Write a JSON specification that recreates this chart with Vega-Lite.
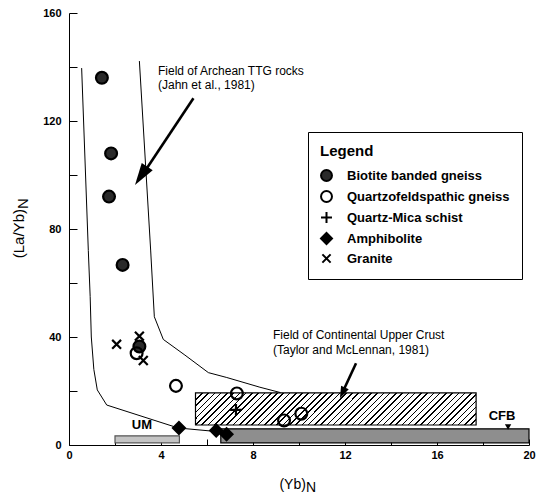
{
  "$schema": "https://vega.github.io/schema/vega-lite/v6.json",
  "width": 460,
  "height": 432,
  "autosize": {"type": "none"},
  "padding": {"left": 69, "top": 13, "right": 17, "bottom": 51},
  "background": "white",
  "config": {
    "view": {"stroke": null},
    "axis": {"domainColor": "#000", "domainWidth": 1, "tickColor": "#000", "tickWidth": 1, "labelColor": "#000", "labelFont": "Liberation Sans", "labelFontSize": 11, "labelFontWeight": "bold", "grid": false, "labelOverlap": false, "labelFlush": false},
    "legend": {"orient": "none", "legendX": 239, "legendY": 119, "titleFont": "Liberation Sans", "titleFontSize": 15, "titleFontWeight": "bold", "titleColor": "#000", "titlePadding": 10, "labelFont": "Liberation Sans", "labelFontSize": 13, "labelFontWeight": "bold", "labelColor": "#000", "labelLimit": 400, "strokeColor": "#000", "fillColor": "#fff", "padding": 12, "rowPadding": 2, "symbolSize": 120, "symbolStrokeWidth": 2, "symbolStrokeColor": "#000", "labelOffset": 14},
    "text": {"font": "Liberation Sans", "color": "#000"}
  },
  "layer": [
    {
      "data": {"values": [{"name": "Continental Upper Crust", "x": 5.5, "x2": 17.7, "y": 7.4, "y2": 19.3}]},
      "mark": {"type": "rect", "stroke": "#000", "strokeWidth": 1.2, "fill": {"gradient": "linear", "x1": 0, "y1": 0, "x2": 1.1, "y2": 0.1258, "stops": [
        {"offset":0,"color":"#000"},{"offset":0.005,"color":"#000"},{"offset":0.005,"color":"#fff"},{"offset":0.02,"color":"#fff"},
        {"offset":0.02,"color":"#000"},{"offset":0.025,"color":"#000"},{"offset":0.025,"color":"#fff"},{"offset":0.04,"color":"#fff"},
        {"offset":0.04,"color":"#000"},{"offset":0.045,"color":"#000"},{"offset":0.045,"color":"#fff"},{"offset":0.06,"color":"#fff"},
        {"offset":0.06,"color":"#000"},{"offset":0.065,"color":"#000"},{"offset":0.065,"color":"#fff"},{"offset":0.08,"color":"#fff"},
        {"offset":0.08,"color":"#000"},{"offset":0.085,"color":"#000"},{"offset":0.085,"color":"#fff"},{"offset":0.10,"color":"#fff"},
        {"offset":0.10,"color":"#000"},{"offset":0.105,"color":"#000"},{"offset":0.105,"color":"#fff"},{"offset":0.12,"color":"#fff"},
        {"offset":0.12,"color":"#000"},{"offset":0.125,"color":"#000"},{"offset":0.125,"color":"#fff"},{"offset":0.14,"color":"#fff"},
        {"offset":0.14,"color":"#000"},{"offset":0.145,"color":"#000"},{"offset":0.145,"color":"#fff"},{"offset":0.16,"color":"#fff"},
        {"offset":0.16,"color":"#000"},{"offset":0.165,"color":"#000"},{"offset":0.165,"color":"#fff"},{"offset":0.18,"color":"#fff"},
        {"offset":0.18,"color":"#000"},{"offset":0.185,"color":"#000"},{"offset":0.185,"color":"#fff"},{"offset":0.20,"color":"#fff"},
        {"offset":0.20,"color":"#000"},{"offset":0.205,"color":"#000"},{"offset":0.205,"color":"#fff"},{"offset":0.22,"color":"#fff"},
        {"offset":0.22,"color":"#000"},{"offset":0.225,"color":"#000"},{"offset":0.225,"color":"#fff"},{"offset":0.24,"color":"#fff"},
        {"offset":0.24,"color":"#000"},{"offset":0.245,"color":"#000"},{"offset":0.245,"color":"#fff"},{"offset":0.26,"color":"#fff"},
        {"offset":0.26,"color":"#000"},{"offset":0.265,"color":"#000"},{"offset":0.265,"color":"#fff"},{"offset":0.28,"color":"#fff"},
        {"offset":0.28,"color":"#000"},{"offset":0.285,"color":"#000"},{"offset":0.285,"color":"#fff"},{"offset":0.30,"color":"#fff"},
        {"offset":0.30,"color":"#000"},{"offset":0.305,"color":"#000"},{"offset":0.305,"color":"#fff"},{"offset":0.32,"color":"#fff"},
        {"offset":0.32,"color":"#000"},{"offset":0.325,"color":"#000"},{"offset":0.325,"color":"#fff"},{"offset":0.34,"color":"#fff"},
        {"offset":0.34,"color":"#000"},{"offset":0.345,"color":"#000"},{"offset":0.345,"color":"#fff"},{"offset":0.36,"color":"#fff"},
        {"offset":0.36,"color":"#000"},{"offset":0.365,"color":"#000"},{"offset":0.365,"color":"#fff"},{"offset":0.38,"color":"#fff"},
        {"offset":0.38,"color":"#000"},{"offset":0.385,"color":"#000"},{"offset":0.385,"color":"#fff"},{"offset":0.40,"color":"#fff"},
        {"offset":0.40,"color":"#000"},{"offset":0.405,"color":"#000"},{"offset":0.405,"color":"#fff"},{"offset":0.42,"color":"#fff"},
        {"offset":0.42,"color":"#000"},{"offset":0.425,"color":"#000"},{"offset":0.425,"color":"#fff"},{"offset":0.44,"color":"#fff"},
        {"offset":0.44,"color":"#000"},{"offset":0.445,"color":"#000"},{"offset":0.445,"color":"#fff"},{"offset":0.46,"color":"#fff"},
        {"offset":0.46,"color":"#000"},{"offset":0.465,"color":"#000"},{"offset":0.465,"color":"#fff"},{"offset":0.48,"color":"#fff"},
        {"offset":0.48,"color":"#000"},{"offset":0.485,"color":"#000"},{"offset":0.485,"color":"#fff"},{"offset":0.50,"color":"#fff"},
        {"offset":0.50,"color":"#000"},{"offset":0.505,"color":"#000"},{"offset":0.505,"color":"#fff"},{"offset":0.52,"color":"#fff"},
        {"offset":0.52,"color":"#000"},{"offset":0.525,"color":"#000"},{"offset":0.525,"color":"#fff"},{"offset":0.54,"color":"#fff"},
        {"offset":0.54,"color":"#000"},{"offset":0.545,"color":"#000"},{"offset":0.545,"color":"#fff"},{"offset":0.56,"color":"#fff"},
        {"offset":0.56,"color":"#000"},{"offset":0.565,"color":"#000"},{"offset":0.565,"color":"#fff"},{"offset":0.58,"color":"#fff"},
        {"offset":0.58,"color":"#000"},{"offset":0.585,"color":"#000"},{"offset":0.585,"color":"#fff"},{"offset":0.60,"color":"#fff"},
        {"offset":0.60,"color":"#000"},{"offset":0.605,"color":"#000"},{"offset":0.605,"color":"#fff"},{"offset":0.62,"color":"#fff"},
        {"offset":0.62,"color":"#000"},{"offset":0.625,"color":"#000"},{"offset":0.625,"color":"#fff"},{"offset":0.64,"color":"#fff"},
        {"offset":0.64,"color":"#000"},{"offset":0.645,"color":"#000"},{"offset":0.645,"color":"#fff"},{"offset":0.66,"color":"#fff"},
        {"offset":0.66,"color":"#000"},{"offset":0.665,"color":"#000"},{"offset":0.665,"color":"#fff"},{"offset":0.68,"color":"#fff"},
        {"offset":0.68,"color":"#000"},{"offset":0.685,"color":"#000"},{"offset":0.685,"color":"#fff"},{"offset":0.70,"color":"#fff"},
        {"offset":0.70,"color":"#000"},{"offset":0.705,"color":"#000"},{"offset":0.705,"color":"#fff"},{"offset":0.72,"color":"#fff"},
        {"offset":0.72,"color":"#000"},{"offset":0.725,"color":"#000"},{"offset":0.725,"color":"#fff"},{"offset":0.74,"color":"#fff"},
        {"offset":0.74,"color":"#000"},{"offset":0.745,"color":"#000"},{"offset":0.745,"color":"#fff"},{"offset":0.76,"color":"#fff"},
        {"offset":0.76,"color":"#000"},{"offset":0.765,"color":"#000"},{"offset":0.765,"color":"#fff"},{"offset":0.78,"color":"#fff"},
        {"offset":0.78,"color":"#000"},{"offset":0.785,"color":"#000"},{"offset":0.785,"color":"#fff"},{"offset":0.80,"color":"#fff"},
        {"offset":0.80,"color":"#000"},{"offset":0.805,"color":"#000"},{"offset":0.805,"color":"#fff"},{"offset":0.82,"color":"#fff"},
        {"offset":0.82,"color":"#000"},{"offset":0.825,"color":"#000"},{"offset":0.825,"color":"#fff"},{"offset":0.84,"color":"#fff"},
        {"offset":0.84,"color":"#000"},{"offset":0.845,"color":"#000"},{"offset":0.845,"color":"#fff"},{"offset":0.86,"color":"#fff"},
        {"offset":0.86,"color":"#000"},{"offset":0.865,"color":"#000"},{"offset":0.865,"color":"#fff"},{"offset":0.88,"color":"#fff"},
        {"offset":0.88,"color":"#000"},{"offset":0.885,"color":"#000"},{"offset":0.885,"color":"#fff"},{"offset":0.90,"color":"#fff"},
        {"offset":0.90,"color":"#000"},{"offset":0.905,"color":"#000"},{"offset":0.905,"color":"#fff"},{"offset":0.92,"color":"#fff"},
        {"offset":0.92,"color":"#000"},{"offset":0.925,"color":"#000"},{"offset":0.925,"color":"#fff"},{"offset":0.94,"color":"#fff"},
        {"offset":0.94,"color":"#000"},{"offset":0.945,"color":"#000"},{"offset":0.945,"color":"#fff"},{"offset":0.96,"color":"#fff"},
        {"offset":0.96,"color":"#000"},{"offset":0.965,"color":"#000"},{"offset":0.965,"color":"#fff"},{"offset":0.98,"color":"#fff"},
        {"offset":0.98,"color":"#000"},{"offset":0.985,"color":"#000"},{"offset":0.985,"color":"#fff"},{"offset":1,"color":"#fff"}
      ]}},
      "encoding": {
        "x": {"field": "x", "type": "quantitative", "title": null, "scale": {"domain": [0, 20], "nice": false}, "axis": {"values": [0, 2, 4, 6, 8, 10, 12, 14, 16, 18, 20], "labelExpr": "datum.value % 4 === 0 ? datum.label : ''", "tickSize": -6, "labelPadding": 10}},
        "x2": {"field": "x2"},
        "y": {"field": "y", "type": "quantitative", "title": null, "scale": {"domain": [0, 160], "nice": false}, "axis": {"values": [0, 20, 40, 60, 80, 100, 120, 140, 160], "labelExpr": "datum.value % 40 === 0 ? datum.label : ''", "tickSize": -8, "labelPadding": 16}},
        "y2": {"field": "y2"}
      }
    },
    {
      "data": {"values": [{"name": "CFB", "x": 6.6, "x2": 20, "y": 0.8, "y2": 6.0}]},
      "mark": {"type": "rect", "fill": "#8e8e8e", "stroke": "#000", "strokeWidth": 1.2},
      "encoding": {"x": {"field": "x", "type": "quantitative", "title": null}, "x2": {"field": "x2"}, "y": {"field": "y", "type": "quantitative", "title": null}, "y2": {"field": "y2"}}
    },
    {
      "data": {"values": [{"name": "UM", "x": 2.0, "x2": 4.8, "y": 0.8, "y2": 3.4}]},
      "mark": {"type": "rect", "fill": "#c4c4c4", "stroke": "#555", "strokeWidth": 1.2},
      "encoding": {"x": {"field": "x", "type": "quantitative", "title": null}, "x2": {"field": "x2"}, "y": {"field": "y", "type": "quantitative", "title": null}, "y2": {"field": "y2"}}
    },
    {
      "data": {"values": [
        {"line": "lower", "x": 0.55, "y": 139.6},
        {"line": "lower", "x": 0.84, "y": 72},
        {"line": "lower", "x": 0.92, "y": 55},
        {"line": "lower", "x": 0.97, "y": 40},
        {"line": "lower", "x": 1.08, "y": 28},
        {"line": "lower", "x": 1.23, "y": 20.4},
        {"line": "lower", "x": 1.64, "y": 14.8},
        {"line": "lower", "x": 4.75, "y": 6.3},
        {"line": "lower", "x": 6.4, "y": 5.0},
        {"line": "lower", "x": 7.0, "y": 3.8},
        {"line": "upper", "x": 3.06, "y": 142.2},
        {"line": "upper", "x": 3.55, "y": 72.2},
        {"line": "upper", "x": 3.71, "y": 47.5},
        {"line": "upper", "x": 4.1, "y": 39.1},
        {"line": "upper", "x": 5.04, "y": 33.3},
        {"line": "upper", "x": 6.06, "y": 26.8},
        {"line": "upper", "x": 6.86, "y": 25.0},
        {"line": "upper", "x": 8.3, "y": 21.4},
        {"line": "upper", "x": 9.2, "y": 19.4}
      ]},
      "mark": {"type": "line", "color": "#000", "strokeWidth": 1},
      "encoding": {"x": {"field": "x", "type": "quantitative", "title": null}, "y": {"field": "y", "type": "quantitative", "title": null}, "detail": {"field": "line"}}
    },
    {
      "data": {"values": [
        {"arrow": "TTG", "x": 5.41, "y": 128.4, "x2": 3.16, "y2": 99.6},
        {"arrow": "Crust", "x": 12.48, "y": 30.3, "x2": 11.9, "y2": 19.6}
      ]},
      "mark": {"type": "rule", "color": "#000", "strokeWidth": 2.6},
      "encoding": {"x": {"field": "x", "type": "quantitative", "title": null}, "x2": {"field": "x2"}, "y": {"field": "y", "type": "quantitative", "title": null}, "y2": {"field": "y2"}}
    },
    {
      "data": {"values": [{"arrow": "TTG", "x": 2.87, "y": 96.3}]},
      "mark": {"type": "point", "shape": "M0,0L0.3,1L-0.3,1Z", "filled": true, "color": "#000", "size": 1936, "angle": 213.7, "opacity": 1},
      "encoding": {"x": {"field": "x", "type": "quantitative", "title": null}, "y": {"field": "y", "type": "quantitative", "title": null}}
    },
    {
      "data": {"values": [{"arrow": "Crust", "x": 11.78, "y": 17.3}]},
      "mark": {"type": "point", "shape": "M0,0L0.35,1L-0.35,1Z", "filled": true, "color": "#000", "size": 576, "angle": 204.6, "opacity": 1},
      "encoding": {"x": {"field": "x", "type": "quantitative", "title": null}, "y": {"field": "y", "type": "quantitative", "title": null}}
    },
    {
      "data": {"values": [{"name": "CFB", "x": 19.09, "y": 6.7}]},
      "mark": {"type": "point", "shape": "triangle-down", "filled": true, "color": "#000", "size": 40, "opacity": 1},
      "encoding": {"x": {"field": "x", "type": "quantitative", "title": null}, "y": {"field": "y", "type": "quantitative", "title": null}}
    },
    {
      "data": {"values": [
        {"type": "Biotite banded gneiss", "x": 1.43, "y": 136},
        {"type": "Biotite banded gneiss", "x": 1.83, "y": 108},
        {"type": "Biotite banded gneiss", "x": 1.74, "y": 92},
        {"type": "Biotite banded gneiss", "x": 2.33, "y": 66.7},
        {"type": "Biotite banded gneiss", "x": 3.06, "y": 36.5},
        {"type": "Quartzofeldspathic gneiss", "x": 2.94, "y": 34},
        {"type": "Quartzofeldspathic gneiss", "x": 4.65, "y": 21.9},
        {"type": "Quartzofeldspathic gneiss", "x": 7.3, "y": 19.1},
        {"type": "Quartzofeldspathic gneiss", "x": 9.35, "y": 9.1},
        {"type": "Quartzofeldspathic gneiss", "x": 10.1, "y": 11.6},
        {"type": "Quartz-Mica schist", "x": 7.26, "y": 13},
        {"type": "Amphibolite", "x": 4.78, "y": 6.3},
        {"type": "Amphibolite", "x": 6.4, "y": 5.4},
        {"type": "Amphibolite", "x": 6.85, "y": 4.0},
        {"type": "Granite", "x": 2.07, "y": 37.3},
        {"type": "Granite", "x": 3.06, "y": 40.3},
        {"type": "Granite", "x": 3.23, "y": 31.3}
      ]},
      "mark": {"type": "point", "filled": true, "strokeWidth": 2.2, "size": 140, "opacity": 1},
      "encoding": {
        "x": {"field": "x", "type": "quantitative", "title": null},
        "y": {"field": "y", "type": "quantitative", "title": null},
        "shape": {"field": "type", "type": "nominal", "title": "\u00a0\u00a0\u00a0\u00a0\u00a0\u00a0\u00a0Legend", "scale": {"domain": ["Biotite banded gneiss", "Quartzofeldspathic gneiss", "Quartz-Mica schist", "Amphibolite", "Granite"], "range": ["circle", "circle", "M-1,0L1,0M0,-1L0,1", "diamond", "M-0.75,-0.75L0.75,0.75M0.75,-0.75L-0.75,0.75"]}},
        "fill": {"field": "type", "type": "nominal", "title": "\u00a0\u00a0\u00a0\u00a0\u00a0\u00a0\u00a0Legend", "scale": {"domain": ["Biotite banded gneiss", "Quartzofeldspathic gneiss", "Quartz-Mica schist", "Amphibolite", "Granite"], "range": ["#2a2a2a", "rgba(0,0,0,0)", "rgba(0,0,0,0)", "#000", "rgba(0,0,0,0)"]}},
        "stroke": {"field": "type", "type": "nominal", "title": "\u00a0\u00a0\u00a0\u00a0\u00a0\u00a0\u00a0Legend", "scale": {"domain": ["Biotite banded gneiss", "Quartzofeldspathic gneiss", "Quartz-Mica schist", "Amphibolite", "Granite"], "range": ["#000", "#000", "#000", "#000", "#000"]}}
      }
    },
    {
      "data": {"values": [
        {"label": "Field of Archean TTG rocks", "x": 3.87, "y": 138.6},
        {"label": "(Jahn et al., 1981)", "x": 3.87, "y": 133.5},
        {"label": "Field of Continental Upper Crust", "x": 8.87, "y": 40.6},
        {"label": "(Taylor and McLennan, 1981)", "x": 8.87, "y": 35.2}
      ]},
      "mark": {"type": "text", "align": "left", "baseline": "middle", "fontSize": 12},
      "encoding": {"x": {"field": "x", "type": "quantitative", "title": null}, "y": {"field": "y", "type": "quantitative", "title": null}, "text": {"field": "label"}}
    },
    {
      "data": {"values": [
        {"label": "UM", "x": 3.17, "y": 7.4},
        {"label": "CFB", "x": 18.83, "y": 10.7}
      ]},
      "mark": {"type": "text", "align": "center", "baseline": "middle", "fontSize": 13, "fontWeight": "bold"},
      "encoding": {"x": {"field": "x", "type": "quantitative", "title": null}, "y": {"field": "y", "type": "quantitative", "title": null}, "text": {"field": "label"}}
    },
    {
      "data": {"values": [{"label": "(Yb)", "x": 10.3, "y": -16.3}]},
      "mark": {"type": "text", "align": "right", "baseline": "alphabetic", "fontSize": 14},
      "encoding": {"x": {"field": "x", "type": "quantitative", "title": null}, "y": {"field": "y", "type": "quantitative", "title": null}, "text": {"field": "label"}}
    },
    {
      "data": {"values": [{"label": "N", "x": 10.3, "y": -17.5}]},
      "mark": {"type": "text", "align": "left", "baseline": "alphabetic", "fontSize": 14},
      "encoding": {"x": {"field": "x", "type": "quantitative", "title": null}, "y": {"field": "y", "type": "quantitative", "title": null}, "text": {"field": "label"}}
    },
    {
      "data": {"values": [{"label": "(La/Yb)", "x": -1.96, "y": 87.4}]},
      "mark": {"type": "text", "align": "right", "baseline": "alphabetic", "fontSize": 15, "angle": 270},
      "encoding": {"x": {"field": "x", "type": "quantitative", "title": null}, "y": {"field": "y", "type": "quantitative", "title": null}, "text": {"field": "label"}}
    },
    {
      "data": {"values": [{"label": "N", "x": -1.8, "y": 87.4}]},
      "mark": {"type": "text", "align": "left", "baseline": "alphabetic", "fontSize": 15, "angle": 270},
      "encoding": {"x": {"field": "x", "type": "quantitative", "title": null}, "y": {"field": "y", "type": "quantitative", "title": null}, "text": {"field": "label"}}
    }
  ]
}
